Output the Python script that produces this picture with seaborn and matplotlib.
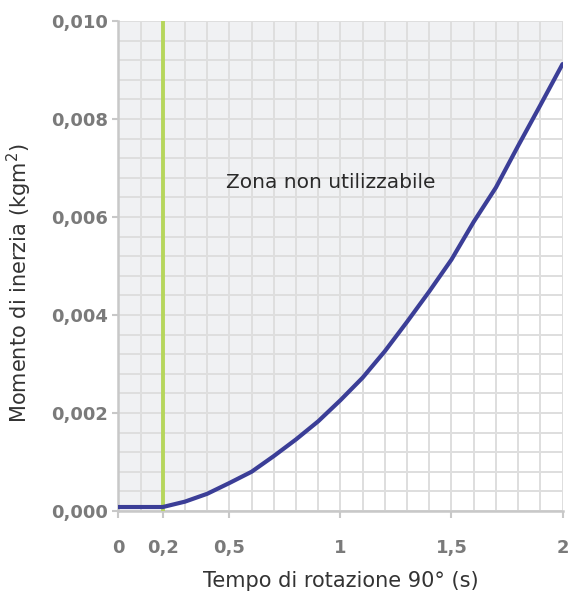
import numpy as np
import pandas as pd
import matplotlib
matplotlib.use("Agg")
import matplotlib.pyplot as plt
from matplotlib.ticker import MultipleLocator, FuncFormatter
import seaborn as sns

# tempo di rotazione (s) e momento di inerzia (kgm²)
tempo = [0.0, 0.1, 0.2, 0.3, 0.4, 0.5, 0.6, 0.7, 0.8, 0.9, 1.0,
         1.1, 1.2, 1.3, 1.4, 1.5, 1.6, 1.7, 1.8, 1.9, 2.0]
inerzia = [0.00008, 0.00008, 0.00008, 0.00019, 0.00035, 0.00057, 0.0008,
           0.00112, 0.00146, 0.00183, 0.00226, 0.00272, 0.00326, 0.00386,
           0.00448, 0.00513, 0.0059, 0.0066, 0.00745, 0.00828, 0.00912]
limite_tempo = 0.2
x_ticks = [0, 0.2, 0.5, 1, 1.5, 2]
x_labels = ["0", "0,2", "0,5", "1", "1,5", "2"]
y_ticks = [0.0, 0.002, 0.004, 0.006, 0.008, 0.010]
nota = "Zona non utilizzabile"
nota_pos = (0.957, 0.0067)

df = pd.DataFrame({"tempo": tempo, "inerzia": inerzia})

sns.set_style("white")
plt.rcParams["font.family"] = ["DejaVu Sans"]

fig = plt.figure(figsize=(5.69, 5.99), dpi=100)
ax = fig.add_axes([0.208, 0.147, 0.7806, 0.818])

ymax = 0.010
ax.fill_between(df["tempo"], df["inerzia"], ymax, color="#f0f1f3", zorder=0, lw=0)

ax.xaxis.set_minor_locator(MultipleLocator(0.1))
ax.yaxis.set_minor_locator(MultipleLocator(0.0004))
ax.grid(True, which="both", color="#dedede", lw=1.4, zorder=1)
ax.set_axisbelow(True)

ax.axvline(limite_tempo, color="#b6d65c", lw=2.8, zorder=3)
sns.lineplot(data=df, x="tempo", y="inerzia", color="#3b3e97", lw=3,
             ax=ax, zorder=4)

ax.text(nota_pos[0], nota_pos[1], nota, ha="center", va="center",
        fontsize=14.5, color="#2a2a2a")

ax.set_xlim(0, 2)
ax.set_ylim(0, ymax)
ax.set_xticks(x_ticks, labels=x_labels)
ax.set_yticks(y_ticks)
ax.yaxis.set_major_formatter(FuncFormatter(lambda v, p: f"{v:.3f}".replace(".", ",")))
ax.xaxis.get_major_ticks()[1].tick1line.set_visible(False)

ax.tick_params(axis="x", which="major", length=5, width=1.5, color="#c8c8c8",
               pad=15, labelsize=13, labelcolor="#7a7a7a", bottom=True)
ax.tick_params(axis="y", which="major", length=4, width=1.5, color="#c8c8c8",
               pad=3.5, labelsize=13, labelcolor="#7a7a7a", left=True)
ax.tick_params(which="minor", length=0)
for lab in ax.get_xticklabels() + ax.get_yticklabels():
    lab.set_fontweight("bold")

for s in ["top", "right"]:
    ax.spines[s].set_visible(False)
for s in ["left", "bottom"]:
    ax.spines[s].set_color("#c8c8c8")
    ax.spines[s].set_linewidth(1.8)

ax.set_xlabel("Tempo di rotazione 90° (s)", fontsize=15, color="#333333", labelpad=10)
ax.set_ylabel("Momento di inerzia (kgm$^2$)", fontsize=15, color="#333333")
ax.yaxis.set_label_coords(-0.19, 0.465)

fig.savefig("out.png", dpi=100)
